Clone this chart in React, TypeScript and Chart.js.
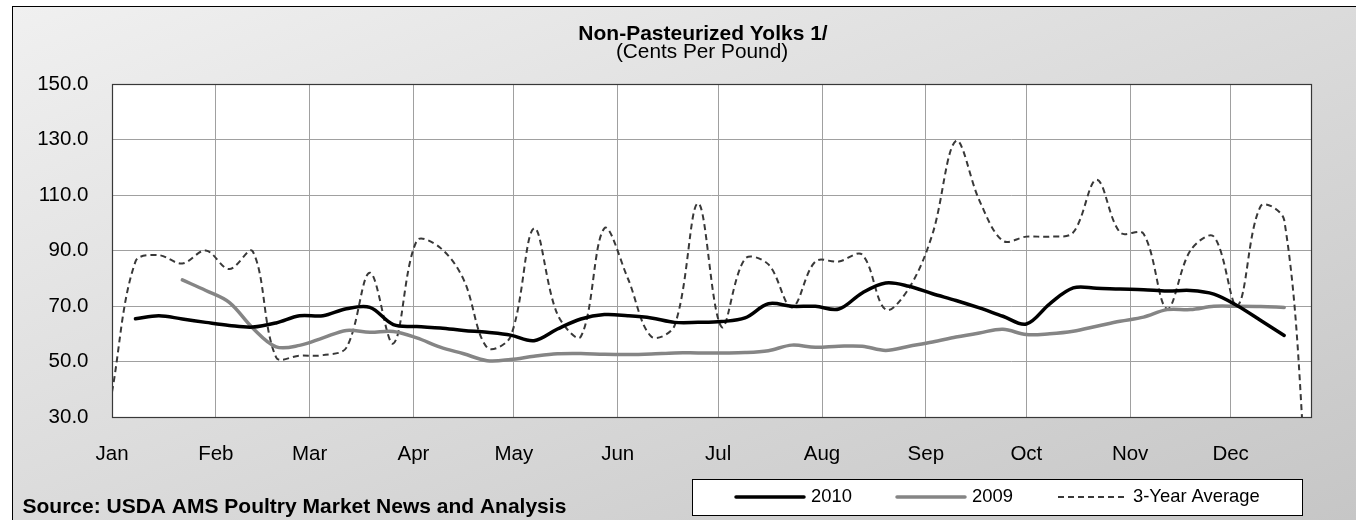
import React, { useEffect, useRef } from "react";
import { Chart, registerables } from "chart.js";

Chart.register(...registerables);

// ---------- data ----------
const MONTHS = ["Jan", "Feb", "Mar", "Apr", "May", "Jun", "Jul", "Aug", "Sep", "Oct", "Nov", "Dec"];
const MONTH_START_DAYS = [0, 31, 59, 90, 120, 151, 181, 212, 243, 273, 304, 334];
const X_MIN_DAY = 0;
const X_MAX_DAY = 358;

// day of year for each weekly observation
const WEEK_DAYS = [
  0, 7, 14, 21, 28, 35, 42, 49, 56, 63, 70, 77, 84, 91, 98, 105, 112, 119, 126, 133,
  140, 147, 154, 161, 168, 175, 182, 189, 196, 203, 210, 217, 224, 231, 238, 245, 252,
  259, 266, 273, 280, 287, 294, 301, 308, 315, 322, 329, 336, 343, 350, 357,
];

const SERIES_2010 = [
  null, 65.4, 66.5, 65.3, 64.1, 63.0, 62.4, 63.9, 66.5, 66.5, 69.0, 69.5, 63.3, 62.6,
  62.1, 61.2, 60.5, 59.5, 57.5, 61.7, 65.3, 66.9, 66.5, 65.7, 64.1, 64.1, 64.4, 65.7,
  70.8, 69.9, 69.9, 68.9, 74.7, 78.3, 77.1, 74.4, 72.0, 69.3, 66.3, 63.5, 70.8, 76.5,
  76.4, 76.1, 75.9, 75.4, 75.6, 74.3, 70.1, 64.8, 59.4, null,
];

const SERIES_2009 = [
  null, null, null, 79.4, 75.6, 71.3, 62.1, 55.3, 55.8, 58.5, 61.2, 60.5, 60.8, 58.5,
  55.2, 52.8, 50.3, 50.7, 51.9, 52.8, 52.9, 52.6, 52.5, 52.7, 53.1, 53.1, 53.1, 53.2,
  53.9, 55.9, 55.1, 55.5, 55.5, 54.0, 55.5, 57.0, 58.8, 60.3, 61.6, 59.7, 60.0, 60.9,
  62.7, 64.5, 66.0, 68.7, 68.7, 69.9, 69.9, 69.8, 69.5, null,
];

const SERIES_3YR_AVG = [
  39.0, 86.0, 88.3, 85.3, 90.0, 83.3, 89.7, 51.5, 52.1, 52.3, 55.0, 82.0, 56.5, 93.5,
  91.0, 79.5, 55.0, 59.0, 98.0, 67.0, 59.0, 98.0, 80.0, 59.0, 63.0, 107.0, 62.5, 87.0,
  85.0, 69.5, 86.0, 86.0, 88.5, 68.7, 76.5, 96.0, 129.5, 108.0, 93.5, 95.0, 95.0, 96.5,
  115.5, 96.5, 96.0, 69.0, 90.0, 95.0, 70.0, 106.0, 101.0, 0.0,
];

const Y_MIN = 30;
const Y_MAX = 150;
const Y_STEP = 20;

const SERIES_LABELS = ["2010", "2009", "3-Year Average"];
const TITLE = "Non-Pasteurized Yolks 1/";
const SUBTITLE = "(Cents Per Pound)";
const SOURCE = "Source: USDA AMS Poultry Market News and Analysis";

// ---------- styling ----------
const FONT = '"Liberation Sans", Arial, Helvetica, sans-serif';
const W = 1356;
const H = 520;

function toPoints(values: (number | null)[]) {
  const pts: { x: number; y: number }[] = [];
  values.forEach((v, i) => {
    if (v !== null && v !== undefined) pts.push({ x: WEEK_DAYS[i], y: v });
  });
  return pts;
}

const decorPlugin = {
  id: "decor",
  beforeDraw(chart: any) {
    const { ctx, chartArea: a } = chart;
    ctx.save();
    // outer chart box with diagonal gradient
    const bx = 12;
    const by = 6;
    const g = ctx.createLinearGradient(bx, by, bx + 343, by + 897);
    g.addColorStop(0, "#f0f0f0");
    g.addColorStop(0.5, "#dbdbdb");
    g.addColorStop(1, "#c6c6c6");
    ctx.fillStyle = g;
    ctx.fillRect(bx, by, W, H);
    ctx.strokeStyle = "#000";
    ctx.lineWidth = 1;
    ctx.strokeRect(bx + 0.5, by + 0.5, W + 20, H + 20);
    // plot area
    ctx.fillStyle = "#ffffff";
    ctx.fillRect(a.left, a.top, a.right - a.left, a.bottom - a.top);
    // titles
    ctx.fillStyle = "#000";
    ctx.textAlign = "center";
    ctx.textBaseline = "alphabetic";
    ctx.font = `bold 21px ${FONT}`;
    ctx.fillText(TITLE, 703, 40);
    ctx.font = `20.8px ${FONT}`;
    ctx.fillText(SUBTITLE, 702, 57.5);
    // source
    ctx.textAlign = "left";
    ctx.font = `bold 21px ${FONT}`;
    ctx.fillText(SOURCE, 22.5, 513);
    ctx.restore();
  },
  beforeDatasetsDraw(chart: any) {
    const { ctx, chartArea: a } = chart;
    ctx.save();
    ctx.strokeStyle = "#383838";
    ctx.lineWidth = 1.2;
    ctx.strokeRect(Math.round(a.left) + 0.5, Math.round(a.top) + 0.5, Math.round(a.right - a.left), Math.round(a.bottom - a.top));
    ctx.restore();
  },
  afterDraw(chart: any) {
    const { ctx } = chart;
    ctx.save();
    // legend box
    const L = 692.5, T = 479.5, R = 1302.5, B = 515.5;
    ctx.fillStyle = "#ffffff";
    ctx.fillRect(L, T, R - L, B - T);
    ctx.strokeStyle = "#000";
    ctx.lineWidth = 1;
    ctx.strokeRect(L, T, R - L, B - T);
    const starts = [736, 897, 1058];
    const cy = 497;
    const lineLen = 68;
    ctx.font = `18.4px ${FONT}`;
    ctx.textAlign = "left";
    ctx.textBaseline = "middle";
    chart.data.datasets.forEach((ds: any, i: number) => {
      const x0 = starts[i];
      ctx.beginPath();
      ctx.strokeStyle = ds.borderColor;
      ctx.lineWidth = ds.borderWidth;
      ctx.setLineDash(ds.borderDash || []);
      ctx.lineCap = ds.borderDash ? "butt" : "round";
      ctx.moveTo(x0, cy);
      ctx.lineTo(x0 + lineLen, cy);
      ctx.stroke();
      ctx.setLineDash([]);
      ctx.fillStyle = "#000";
      ctx.fillText(ds.label, x0 + lineLen + 7, cy);
    });
    ctx.restore();
  },
};

export default function App() {
  const canvasRef = useRef<HTMLCanvasElement | null>(null);

  useEffect(() => {
    if (!canvasRef.current) return;
    const chart = new Chart(canvasRef.current, {
      type: "line",
      data: {
        datasets: [
          {
            label: SERIES_LABELS[0],
            data: toPoints(SERIES_2010),
            borderColor: "#000000",
            borderWidth: 3.5,
            borderCapStyle: "round",
            borderJoinStyle: "round",
            tension: 0.35,
            pointRadius: 0,
            fill: false,
          },
          {
            label: SERIES_LABELS[1],
            data: toPoints(SERIES_2009),
            borderColor: "#858585",
            borderWidth: 3.5,
            borderCapStyle: "round",
            borderJoinStyle: "round",
            tension: 0.35,
            pointRadius: 0,
            fill: false,
          },
          {
            label: SERIES_LABELS[2],
            data: toPoints(SERIES_3YR_AVG),
            borderColor: "#383838",
            borderWidth: 2,
            borderDash: [6, 4],
            tension: 0.35,
            pointRadius: 0,
            fill: false,
          },
        ],
      } as any,
      options: {
        responsive: false,
        animation: false,
        devicePixelRatio: 1,
        layout: { padding: { top: 84, right: 45, left: 0, bottom: 0 } },
        plugins: {
          legend: { display: false },
          title: { display: false },
          tooltip: { enabled: false },
        },
        elements: { point: { radius: 0 } },
        scales: {
          x: {
            type: "linear",
            min: X_MIN_DAY,
            max: X_MAX_DAY,
            afterBuildTicks: (axis: any) => {
              axis.ticks = MONTH_START_DAYS.map((v) => ({ value: v }));
            },
            afterFit: (axis: any) => {
              axis.height = 103;
            },
            ticks: {
              autoSkip: false,
              maxRotation: 0,
              padding: 25,
              color: "#000",
              font: { family: FONT, size: 20.5 },
              callback: (_v: any, i: number) => MONTHS[i],
            },
            grid: { color: "#a0a0a0", lineWidth: 1, drawTicks: false },
            border: { display: false },
          },
          y: {
            type: "linear",
            min: Y_MIN,
            max: Y_MAX,
            afterFit: (axis: any) => {
              axis.width = 112;
            },
            ticks: {
              stepSize: Y_STEP,
              padding: 23.5,
              color: "#000",
              font: { family: FONT, size: 20.5 },
              callback: (v: any) => Number(v).toFixed(1),
            },
            grid: { color: "#a0a0a0", lineWidth: 1, drawTicks: false },
            border: { display: false },
          },
        },
      } as any,
      plugins: [decorPlugin as any],
    });
    return () => chart.destroy();
  }, []);

  return (
    <div style={{ position: "absolute", left: 0, top: 0, width: W, height: H, overflow: "hidden", background: "#fff" }}>
      <canvas ref={canvasRef} width={W} height={H} style={{ display: "block", width: W, height: H }} />
    </div>
  );
}
